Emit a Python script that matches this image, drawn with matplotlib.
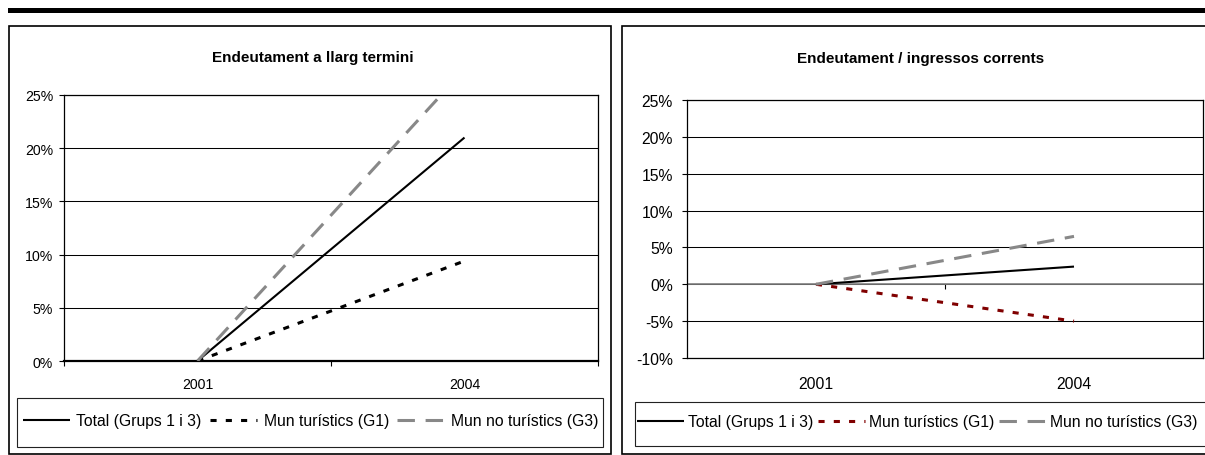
import numpy as np
import matplotlib.pyplot as plt
from matplotlib.patches import Rectangle
from matplotlib.ticker import PercentFormatter

plt.rcParams['font.family'] = ['Liberation Sans', 'DejaVu Sans']
plt.rcParams['axes.unicode_minus'] = False

# Variation 2001 -> 2004 (percent)
years = ['2001', '2004']
series_names = ['Total (Grups 1 i 3)', 'Mun turístics (G1)', 'Mun no turístics (G3)']

llarg_total = [0.0, 21.0]
llarg_g1 = [0.0, 9.4]
llarg_g3 = [0.0, 27.4]

ingr_total = [0.0, 2.4]
ingr_g1 = [0.0, -5.0]
ingr_g3 = [0.0, 6.5]

W, H = 1205, 456
GRAY = '#888888'
DARKRED = '#800000'


def box(x0, y0, x1, y1):
    # pixel box (top-left origin) -> figure fraction rect
    return [x0 / W, 1 - y1 / H, (x1 - x0) / W, (y1 - y0) / H]


fig = plt.figure(figsize=(W / 100, H / 100), dpi=100)

# background layer: top rule, panel frames, legend frames
bg = fig.add_axes([0, 0, 1, 1], zorder=0)
bg.set_xlim(0, W)
bg.set_ylim(H, 0)
bg.axis('off')
bg.add_patch(Rectangle((8, 9), W, 5, facecolor='black', edgecolor='none'))
bg.add_patch(Rectangle((9, 27), 602, 428, facecolor='white', edgecolor='black', lw=1.2))
bg.add_patch(Rectangle((622, 27), 620, 428, facecolor='white', edgecolor='black', lw=1.2))
bg.add_patch(Rectangle((17, 399), 586, 49, facecolor='white', edgecolor='#222222', lw=0.8))
bg.add_patch(Rectangle((635, 403), 600, 44, facecolor='white', edgecolor='#222222', lw=0.8))

bg.text(313, 58, 'Endeutament a llarg termini', ha='center', va='center',
        fontsize=11, fontweight='bold')
bg.text(921, 59, 'Endeutament / ingressos corrents', ha='center', va='center',
        fontsize=11, fontweight='bold')

x = np.arange(len(years))


def style_axes(ax, ymin, ymax, fs, ypad, xpad):
    ax.set_xlim(-0.5, 1.5)
    ax.set_ylim(ymin, ymax)
    ax.set_yticks(np.arange(ymin, ymax + 1, 5))
    ax.yaxis.set_major_formatter(PercentFormatter(decimals=0))
    ax.yaxis.grid(True, color='black', lw=0.75)
    ax.set_axisbelow(True)
    ax.set_xticks(x)
    ax.set_xticklabels(years)
    ax.tick_params(axis='x', which='major', length=0, pad=xpad, labelsize=fs)
    ax.tick_params(axis='y', length=3.6, width=0.8, pad=ypad, labelsize=fs)
    for s in ax.spines.values():
        s.set_linewidth(0.9)


def draw_lines(ax, total, g1, g3, g1_color):
    ax.plot(x, total, color='black', lw=1.5, solid_capstyle='butt',
            label=series_names[0], zorder=3)
    ax.plot(x, g1, color=g1_color, lw=2.2, linestyle=(0, (2, 3)),
            dash_capstyle='butt', label=series_names[1], zorder=3)
    ax.plot(x, g3, color=GRAY, lw=2.2, linestyle=(0, (5.7, 3.5)),
            dash_capstyle='butt', label=series_names[2], zorder=3)


def add_legend(ax, x0, yc, textpad, colspace):
    fig.legend(*ax.get_legend_handles_labels(), loc='center left',
               bbox_to_anchor=(x0 / W, 1 - yc / H), ncol=3, frameon=False,
               fontsize=11.3, handlelength=3.0, handletextpad=textpad,
               columnspacing=colspace, borderpad=0, borderaxespad=0)


# left panel: long-term debt
ax1 = fig.add_axes(box(64, 96, 598, 362), zorder=1)
style_axes(ax1, 0, 25, 10.2, 4.3, 11.5)
ax1.spines['bottom'].set_linewidth(1.6)
ax1.set_xticks([-0.5, 0.5, 1.5], minor=True)
ax1.tick_params(axis='x', which='minor', length=3.6, width=0.8)
draw_lines(ax1, llarg_total, llarg_g1, llarg_g3, 'black')
add_legend(ax1, 23, 422, 0.4, 0.55)

# right panel: debt over current revenue
ax2 = fig.add_axes(box(687, 101, 1203, 359), zorder=1)
style_axes(ax2, -10, 25, 11.3, 6.5, 13)
ax2.axhline(0, color='#808080', lw=1.2, zorder=2)
zero_axis = ax2.secondary_xaxis(10 / 35)
zero_axis.spines['bottom'].set_visible(False)
zero_axis.set_xticks([0.5])
zero_axis.set_xticklabels([''])
zero_axis.tick_params(length=3.6, width=0.8)
draw_lines(ax2, ingr_total, ingr_g1, ingr_g3, DARKRED)
add_legend(ax2, 637, 423, 0.25, 0.3)

fig.savefig('out.png', dpi=100)
